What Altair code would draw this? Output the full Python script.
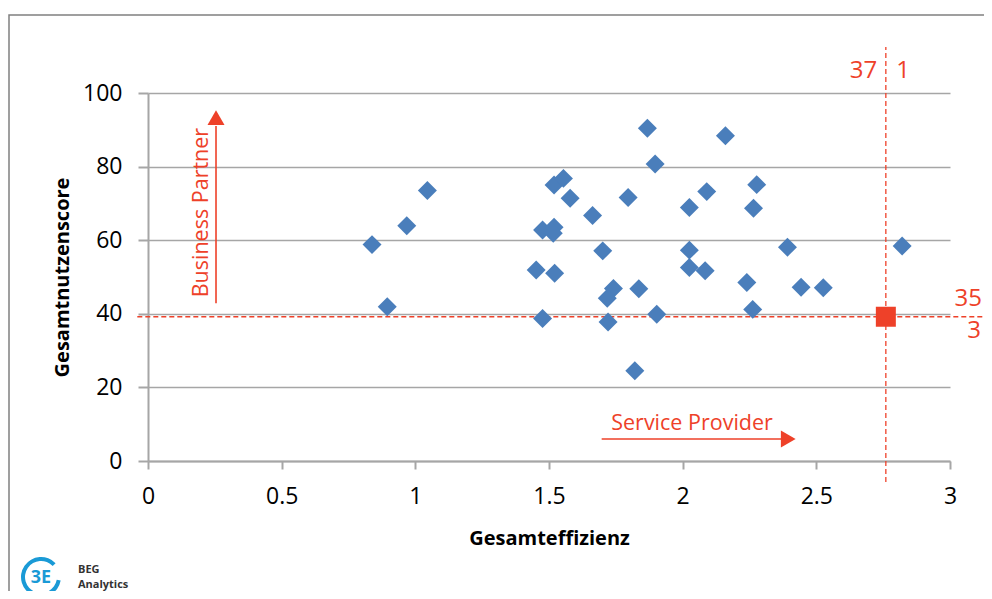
import altair as alt
import pandas as pd

# ---- data ----
eff = [0.838, 0.895, 0.968, 1.045, 1.452, 1.476, 1.476, 1.519, 1.516, 1.519,
       1.554, 1.521, 1.579, 1.663, 1.701, 1.741, 1.718, 1.721, 1.796, 1.836,
       1.821, 1.868, 1.897, 1.903, 2.025, 2.025, 2.025, 2.090, 2.084, 2.160,
       2.277, 2.265, 2.240, 2.262, 2.392, 2.443, 2.526, 2.821]
score = [58.8, 41.9, 63.9, 73.5, 51.9, 38.7, 62.8, 63.5, 61.9, 75.0,
         76.8, 51.0, 71.4, 66.7, 57.1, 46.9, 44.2, 37.8, 71.6, 46.8,
         24.5, 90.4, 80.7, 39.9, 68.9, 57.3, 52.6, 73.2, 51.7, 88.4,
         75.1, 68.7, 48.5, 41.2, 58.1, 47.2, 47.1, 58.4]
mean_eff = [2.76]
mean_score = [39.2]
quad_labels = ["37", "1", "35", "3"]
quad_x = [2.676, 2.825, 3.068, 3.090]
quad_y = [106.0, 106.0, 44.0, 35.2]
x_ticks = [0, 0.5, 1, 1.5, 2, 2.5, 3]
y_ticks = [0, 20, 40, 60, 80, 100]
x_title = "Gesamteffizienz"
y_title = "Gesamtnutzenscore"
bp_label = ["Business Partner"]
sp_label = ["Service Provider"]

RED = "#EE4129"
BLUE = "#4A7EBB"
GRID = "#A6A6A6"
FONT = "Open Sans"

xs = alt.Scale(domain=[0, 3], nice=False, zero=False)
ys = alt.Scale(domain=[0, 100], nice=False, zero=False)
xaxis = alt.Axis(values=x_ticks, grid=False, domainColor=GRID, domainWidth=2,
                 tickColor=GRID, tickWidth=2, tickSize=8, labelFontSize=23,
                 labelColor="#000000", labelPadding=16, labelFlush=False,
                 labelOverlap=False, format=".1~f", labelFont=FONT,
                 titleFont=FONT, titleFontSize=20, titleFontWeight="bold",
                 titleColor="#000000", titlePadding=20)
yaxis = alt.Axis(values=y_ticks, grid=True, gridColor=GRID, gridWidth=1.5,
                 domainColor=GRID, domainWidth=2, tickColor=GRID, tickWidth=2,
                 tickSize=10, labelFontSize=23, labelColor="#000000",
                 labelPadding=16, labelFlush=False, labelOverlap=False,
                 labelFont=FONT, titleFont=FONT, titleFontSize=20,
                 titleFontWeight="bold", titleColor="#000000", titlePadding=10)


def ex(f):
    return alt.X(f"{f}:Q", scale=xs, axis=xaxis, title=x_title)


def ey(f):
    return alt.Y(f"{f}:Q", scale=ys, axis=yaxis, title=y_title)


pts_df = pd.DataFrame({"x": eff, "y": score})
points = alt.Chart(pts_df).mark_point(
    shape="diamond", filled=True, size=360, color=BLUE, opacity=1
).encode(x=ex("x"), y=ey("y"))

mean_df = pd.DataFrame({"x": mean_eff, "y": mean_score})
mean_pt = alt.Chart(mean_df).mark_point(
    shape="square", filled=True, size=400, color=RED, opacity=1
).encode(x=ex("x"), y=ey("y"))

vline_df = pd.DataFrame({"x": mean_eff, "y": [-5.7], "y2": [112.5]})
vline = alt.Chart(vline_df).mark_rule(
    color=RED, strokeDash=[5, 3], strokeWidth=1.3
).encode(x=ex("x"), y=ey("y"), y2="y2:Q")

hline_df = pd.DataFrame({"x": [-0.04], "x2": [3.16], "y": mean_score})
hline = alt.Chart(hline_df).mark_rule(
    color=RED, strokeDash=[5, 3], strokeWidth=1.3
).encode(x=ex("x"), x2="x2:Q", y=ey("y"))

quad_df = pd.DataFrame({"x": quad_x, "y": quad_y, "t": quad_labels})
quad = alt.Chart(quad_df).mark_text(
    font=FONT, fontSize=24, color=RED, align="center", baseline="middle"
).encode(x=ex("x"), y=ey("y"), text="t:N")

# Business Partner arrow
bp_line_df = pd.DataFrame({"x": [0.2544], "y": [42.9], "y2": [91.0]})
bp_line = alt.Chart(bp_line_df).mark_rule(color=RED, strokeWidth=1.6).encode(
    x=ex("x"), y=ey("y"), y2="y2:Q")
bp_head_df = pd.DataFrame({"x": [0.2544], "y": [93.3]})
bp_head = alt.Chart(bp_head_df).mark_point(
    shape="triangle-up", filled=True, size=290, color=RED, opacity=1
).encode(x=ex("x"), y=ey("y"))
bp_text_df = pd.DataFrame({"x": [0.203], "y": [67.5], "t": bp_label})
bp_text = alt.Chart(bp_text_df).mark_text(
    font=FONT, fontSize=21.5, color=RED, angle=270, align="center",
    baseline="middle"
).encode(x=ex("x"), y=ey("y"), text="t:N")

# Service Provider arrow
sp_line_df = pd.DataFrame({"x": [1.697], "x2": [2.37], "y": [5.98]})
sp_line = alt.Chart(sp_line_df).mark_rule(color=RED, strokeWidth=1.6).encode(
    x=ex("x"), x2="x2:Q", y=ey("y"))
sp_head_df = pd.DataFrame({"x": [2.395], "y": [5.98]})
sp_head = alt.Chart(sp_head_df).mark_point(
    shape="triangle-right", filled=True, size=290, color=RED, opacity=1
).encode(x=ex("x"), y=ey("y"))
sp_text_df = pd.DataFrame({"x": [2.035], "y": [10.0], "t": sp_label})
sp_text = alt.Chart(sp_text_df).mark_text(
    font=FONT, fontSize=21.5, color=RED, align="center", baseline="middle"
).encode(x=ex("x"), y=ey("y"), text="t:N")

# decoration: frame and logo
dummy = pd.DataFrame({"a": [0]})
frame = alt.Chart(dummy).mark_rect(
    fill=None, stroke="#808080", strokeWidth=1.5
).encode(x=alt.value(-139), x2=alt.value(1200), y=alt.value(-78),
         y2=alt.value(900))
logo_ring = alt.Chart(dummy).mark_arc(
    radius=20, radius2=16, theta=1.75, theta2=7.1, color="#1A9AD6"
).encode(x=alt.value(-107), y=alt.value(484))
logo_glyph = alt.Chart(dummy).mark_text(
    text="3E", font=FONT, fontSize=18, fontWeight="bold", color="#1A9AD6",
    align="center", baseline="middle"
).encode(x=alt.value(-107), y=alt.value(485))
logo_t1 = alt.Chart(dummy).mark_text(
    text="BEG", font=FONT, fontSize=11, fontWeight="bold", color="#333333",
    align="left", baseline="middle"
).encode(x=alt.value(-70), y=alt.value(477))
logo_t2 = alt.Chart(dummy).mark_text(
    text="Analytics", font=FONT, fontSize=11, fontWeight="bold",
    color="#333333", align="left", baseline="middle"
).encode(x=alt.value(-70), y=alt.value(492))

chart = alt.layer(
    frame, hline, vline, points, mean_pt, quad, bp_line, bp_head, bp_text,
    sp_line, sp_head, sp_text, logo_ring, logo_glyph, logo_t1, logo_t2
).properties(
    width=802, height=368,
    padding={"left": 140, "top": 85, "right": 34, "bottom": 130},
    autosize=alt.AutoSizeParams(type="none"),
    background="white",
).configure_view(stroke=None)

chart.save("out.html", embed_options={"renderer": "svg", "actions": False})
